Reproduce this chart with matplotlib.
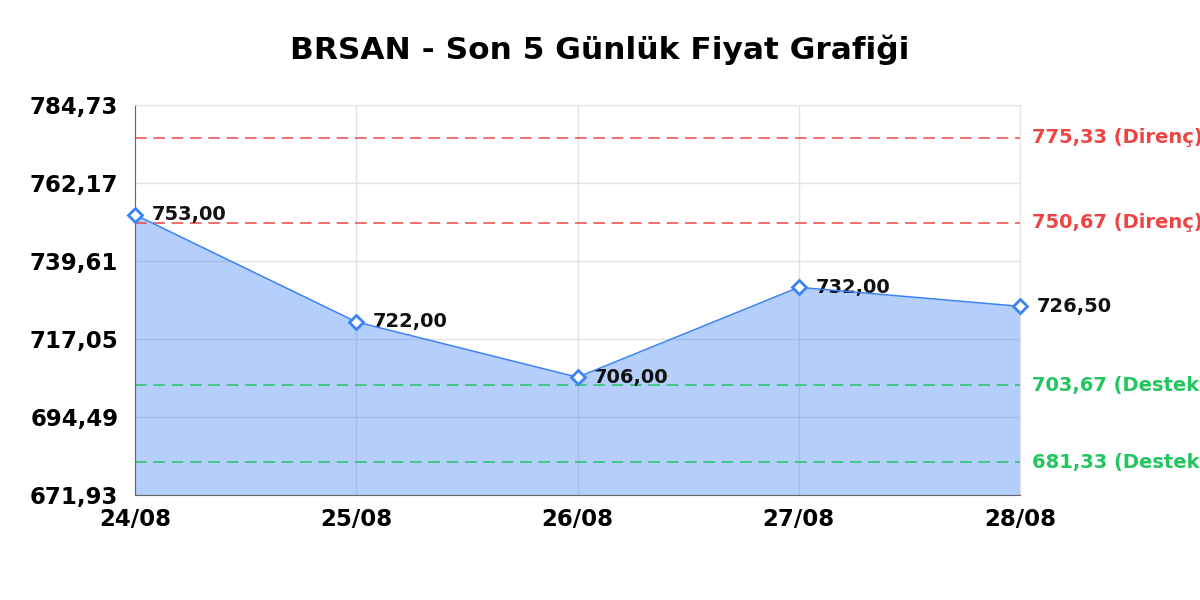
import matplotlib.pyplot as plt

# data
dates = ['24/08', '25/08', '26/08', '27/08', '28/08']
prices = [753.00, 722.00, 706.00, 732.00, 726.50]
resistance = [775.33, 750.67]
support = [703.67, 681.33]
y_ticks = [671.93, 694.49, 717.05, 739.61, 762.17, 784.73]

def tr(v):
    # Turkish style decimal comma
    return f'{v:.2f}'.replace('.', ',')

fig = plt.figure(figsize=(12, 6), dpi=100)
ax = fig.add_axes([0.1125, 0.175, 0.7375, 0.65])

x = list(range(len(dates)))
line_col = '#3b82f6'

ax.set_axisbelow(True)
ax.grid(True, color='#e3e3e3', linewidth=1)
ax.fill_between(x, prices, y_ticks[0], color=line_col, alpha=0.38, linewidth=0)
ax.plot(x, prices, color=line_col, linewidth=1.1, marker='D', markersize=7,
        markerfacecolor='white', markeredgecolor=line_col, markeredgewidth=2,
        zorder=4, clip_on=False)

for xi, p in zip(x, prices):
    ax.annotate(tr(p), (xi, p), xytext=(12, 0), textcoords='offset points',
                ha='left', va='center', fontsize=14, fontweight='bold', color='#111111')

for lvl in resistance:
    ax.axhline(lvl, color='#ef4444', linestyle=(0, (7, 4)), linewidth=1.2, alpha=0.9)
    ax.annotate(f'{tr(lvl)} (Direnç)', (1, lvl), xycoords=('axes fraction', 'data'),
                xytext=(9, 0), textcoords='offset points', ha='left', va='center',
                fontsize=14, fontweight='bold', color='#ef4444', annotation_clip=False)
for lvl in support:
    ax.axhline(lvl, color='#22c55e', linestyle=(0, (7, 4)), linewidth=1.2, alpha=0.9)
    ax.annotate(f'{tr(lvl)} (Destek)', (1, lvl), xycoords=('axes fraction', 'data'),
                xytext=(9, 0), textcoords='offset points', ha='left', va='center',
                fontsize=14, fontweight='bold', color='#22c55e', annotation_clip=False)

ax.set_xlim(0, len(dates) - 1)
ax.set_ylim(y_ticks[0], y_ticks[-1])
ax.set_xticks(x)
ax.set_xticklabels(dates)
ax.set_yticks(y_ticks)
ax.set_yticklabels([tr(v) for v in y_ticks])
ax.tick_params(length=0, labelsize=16.5, pad=9)
ax.tick_params(axis='y', pad=12)
for lbl in ax.get_xticklabels() + ax.get_yticklabels():
    lbl.set_fontweight('bold')

for side in ['top', 'right']:
    ax.spines[side].set_color('#e3e3e3')
for side in ['left', 'bottom']:
    ax.spines[side].set_color('#666666')

fig.suptitle('BRSAN - Son 5 Günlük Fiyat Grafiği', fontsize=22.5, fontweight='bold', y=0.942)

fig.savefig('out.png')
